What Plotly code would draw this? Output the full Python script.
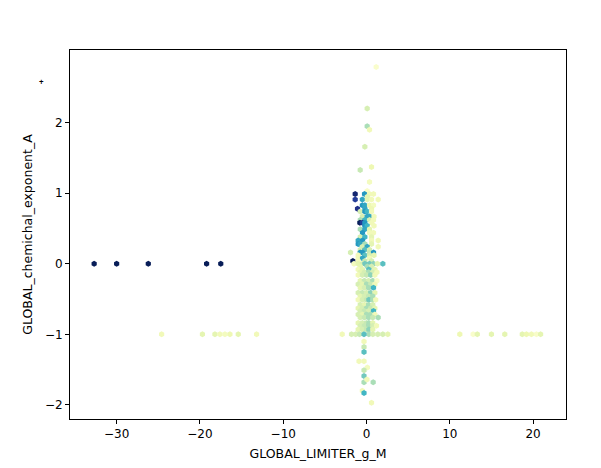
import plotly.graph_objects as go
from plotly.colors import sequential

# hexbin cells: x, y and the mean value that sets colour (0..1)
# outliers far left at y = 0 (all dark)
left_x = [-32.7, -30.0, -26.2, -19.2, -17.5]
left_y = [0.0, 0.0, 0.0, 0.0, 0.0]
left_c = [1.0, 1.0, 1.0, 1.0, 1.0]

# row at y = -1 on the left side
low_left_x = [-24.6, -19.7, -18.2, -17.6, -17.0, -16.4, -15.4, -13.2]
low_left_y = [-1.0, -1.0, -1.0, -1.0, -1.0, -1.0, -1.0, -1.0]
low_left_c = [0.1, 0.15, 0.15, 0.1, 0.08, 0.12, 0.15, 0.1]

# row at y = -1 on the right side
low_right_x = [11.2, 12.8, 13.3, 15.0, 16.6, 18.7, 19.2, 19.8, 20.4, 20.9]
low_right_y = [-1.0, -1.0, -1.0, -1.0, -1.0, -1.0, -1.0, -1.0, -1.0, -1.0]
low_right_c = [0.12, 0.04, 0.15, 0.15, 0.15, 0.15, 0.12, 0.1, 0.05, 0.15]

# central column near x = 0
mid_x = [
    1.16, 0.08, 0.08, 0.36, -0.2, -0.76, 0.6, 0.36, 0.08,
    -1.36, -0.24, 0.36, 0.84, 0.1,
    -1.36, -0.5, 0.1, 0.6, 1.4,
    -0.5, -0.2, 0.36, 0.84,
    -1.08, -0.2, 0.6,
    -0.75, -0.2, 0.08, 0.6,
    -0.5, 0.08, 0.36, 0.9,
    -0.75, -0.2, 0.36, 0.84,
    -0.8, -0.5, -0.2, 0.6,
    -0.2, 0.08, 0.9,
    -0.75, -0.2, 0.36,
    -0.48, 0.36, 0.84,
    -0.75, -0.2, 0.6,
    -1.0, -0.48, 0.6, 1.4,
    -1.0, -0.75, -0.2, 0.6,
    -0.5, 0.08, 1.4,
    -0.75, -0.2, 0.36,
    -1.92, -0.76, -0.48, 0.36, 0.84,
    -1.0, -0.2, 0.36, 0.9,
    -1.0, -0.48, 0.36,
    -1.64, -1.0, -0.2, 0.6,
    -1.5, -1.0, -0.48, -0.2, 0.36, 0.84, 1.3, 1.96,
    -0.75, 0.1, 0.6,
    -1.0, -0.5, 0.28, 1.0,
    -0.75, -0.25, 0.25, 0.75, 1.25,
    -1.0, -0.5, 0.0, 0.5, 1.0,
    -0.75, -0.25, 0.25, 0.75, 1.25,
    -1.0, -0.5, 0.0, 0.5, 1.0,
    -0.75, -0.25, 0.25, 0.84,
    -1.0, -0.5, 0.0, 0.5, 1.0,
    -0.75, -0.25, 0.25, 0.75,
    -1.0, -0.5, 0.0, 0.28, 0.75, 1.1,
    -0.75, -0.25, 0.25, 0.75,
    -1.0, -0.5, 0.0, 0.5, 1.0,
    -0.75, -0.25, 0.25, 0.84,
    -1.0, -0.5, 0.0, 0.5, 1.0,
    -0.75, -0.25, 0.25, 0.75, 1.4,
    -1.0, -0.5, 0.0, 0.28, 0.75,
    -0.75, -0.25, 0.25, 0.75, 1.2,
    -1.0, -0.5, 0.0, 0.28, 0.75,
    -2.92, -1.8, -1.3, -0.84, 0.28, 0.76, 1.36, 1.96, 2.56, -0.3,
    -0.3, -0.3, -0.3, -0.9, -0.3, 0.1, -0.3, -0.3, -0.3, 0.8, 0.05, -0.5, -0.3, 0.6,
]
mid_y = [
    2.79, 2.20, 1.95, 1.90, 1.66, 1.33, 1.37, 1.16, 1.03,
    0.99, 0.99, 0.99, 0.99, 0.95,
    0.91, 0.91, 0.91, 0.91, 0.91,
    0.83, 0.83, 0.83, 0.83,
    0.78, 0.78, 0.78,
    0.74, 0.74, 0.74, 0.74,
    0.67, 0.67, 0.67, 0.67,
    0.62, 0.62, 0.62, 0.62,
    0.58, 0.58, 0.58, 0.58,
    0.54, 0.54, 0.54,
    0.49, 0.49, 0.49,
    0.44, 0.44, 0.44,
    0.38, 0.38, 0.38,
    0.33, 0.33, 0.33, 0.33,
    0.28, 0.28, 0.28, 0.28,
    0.24, 0.24, 0.24,
    0.20, 0.20, 0.20,
    0.16, 0.16, 0.16, 0.16, 0.16,
    0.12, 0.12, 0.12, 0.12,
    0.08, 0.08, 0.08,
    0.04, 0.04, 0.04, 0.04,
    0.0, 0.0, 0.0, 0.0, 0.0, 0.0, 0.0, 0.0,
    -0.04, -0.04, -0.04,
    -0.08, -0.08, -0.08, -0.08,
    -0.12, -0.12, -0.12, -0.12, -0.12,
    -0.16, -0.16, -0.16, -0.16, -0.16,
    -0.24, -0.24, -0.24, -0.24, -0.24,
    -0.29, -0.29, -0.29, -0.29, -0.29,
    -0.34, -0.34, -0.34, -0.34,
    -0.41, -0.41, -0.41, -0.41, -0.41,
    -0.46, -0.46, -0.46, -0.46,
    -0.51, -0.51, -0.51, -0.51, -0.51, -0.51,
    -0.58, -0.58, -0.58, -0.58,
    -0.63, -0.63, -0.63, -0.63, -0.63,
    -0.67, -0.67, -0.67, -0.67,
    -0.72, -0.72, -0.72, -0.72, -0.72,
    -0.76, -0.76, -0.76, -0.76, -0.76,
    -0.84, -0.84, -0.84, -0.84, -0.84,
    -0.88, -0.88, -0.88, -0.88, -0.88,
    -0.93, -0.93, -0.93, -0.93, -0.93,
    -1.0, -1.0, -1.0, -1.0, -1.0, -1.0, -1.0, -1.0, -1.0, -1.0,
    -1.10, -1.18, -1.25, -1.38, -1.38, -1.47, -1.51, -1.59, -1.68, -1.68, -1.64, -1.80, -1.83, -1.97,
]
mid_c = [
    0.04, 0.2, 0.3, 0.1, 0.2, 0.25, 0.12, 0.08, 0.05,
    0.95, 0.6, 0.1, 0.1, 0.15,
    0.85, 0.55, 0.15, 0.1, 0.1,
    0.6, 0.55, 0.12, 0.08,
    0.9, 0.55, 0.12,
    0.2, 0.6, 0.5, 0.1,
    0.2, 0.55, 0.55, 0.1,
    0.3, 0.5, 0.2, 0.1,
    1.0, 0.85, 0.6, 0.1,
    0.6, 0.5, 0.1,
    0.3, 0.55, 0.15,
    0.6, 0.1, 0.1,
    0.2, 0.5, 0.15,
    0.55, 0.6, 0.1, 0.1,
    0.6, 0.55, 0.3, 0.15,
    0.2, 0.55, 0.1,
    0.2, 0.45, 0.2,
    0.2, 0.6, 0.6, 0.25, 0.6,
    0.1, 0.45, 0.2, 0.15,
    0.1, 0.55, 0.1,
    1.0, 0.1, 0.25, 0.2,
    0.08, 0.15, 0.2, 0.4, 0.4, 0.35, 0.15, 0.45,
    0.15, 0.3, 0.2,
    0.1, 0.15, 0.45, 0.15,
    0.15, 0.2, 0.3, 0.2, 0.1,
    0.1, 0.2, 0.25, 0.35, 0.1,
    0.15, 0.25, 0.2, 0.3, 0.05,
    0.2, 0.15, 0.3, 0.25, 0.1,
    0.15, 0.2, 0.3, 0.5,
    0.2, 0.25, 0.2, 0.35, 0.15,
    0.15, 0.2, 0.25, 0.3,
    0.1, 0.2, 0.25, 0.4, 0.3, 0.1,
    0.2, 0.15, 0.3, 0.2,
    0.15, 0.2, 0.3, 0.25, 0.15,
    0.2, 0.25, 0.2, 0.5,
    0.2, 0.15, 0.3, 0.3, 0.1,
    0.2, 0.25, 0.3, 0.25, 0.3,
    0.15, 0.2, 0.25, 0.3, 0.15,
    0.2, 0.25, 0.3, 0.2, 0.1,
    0.15, 0.2, 0.25, 0.35, 0.15,
    0.1, 0.2, 0.2, 0.25, 0.3, 0.2, 0.2, 0.2, 0.15, 0.45,
    0.1, 0.25, 0.45, 0.1, 0.1, 0.08, 0.25, 0.4, 0.3, 0.3, 0.1, 0.1, 0.5, 0.1,
]

x_ticks = [-30, -20, -10, 0, 10, 20]
y_ticks = [-2, -1, 0, 1, 2]

all_x = left_x + low_left_x + low_right_x + mid_x
all_y = left_y + low_left_y + low_right_y + mid_y
all_c = left_c + low_left_c + low_right_c + mid_c

fig = go.Figure()
fig.add_trace(go.Scatter(
    x=all_x, y=all_y, mode="markers",
    marker=dict(symbol="hexagon", size=6, color=all_c, cmin=0, cmax=1,
                colorscale=sequential.YlGnBu, line=dict(width=0)),
    showlegend=False, hoverinfo="skip",
))

def lab(v):
    return str(v).replace("-", "\u2212")

axis_common = dict(
    showgrid=False, zeroline=False, showline=True, linecolor="black", linewidth=1,
    mirror=True, ticks="outside", ticklen=4, tickcolor="black",
    tickfont=dict(family="DejaVu Sans", size=12, color="black"),
)
fig.update_xaxes(range=[-35.6, 23.95], tickvals=x_ticks, ticktext=[lab(v) for v in x_ticks],
                 title=dict(text="GLOBAL_LIMITER_g_M", font=dict(family="DejaVu Sans", size=12.5, color="black"), standoff=8),
                 **axis_common)
fig.update_yaxes(range=[-2.2, 3.03], tickvals=y_ticks, ticktext=[lab(v) for v in y_ticks],
                 title=dict(text="GLOBAL_chemichal_exponent_A", font=dict(family="DejaVu Sans", size=12.5, color="black"), standoff=9),
                 **axis_common)

# tiny stray mark top-left outside the axes
fig.add_annotation(x=-0.0665, y=0.935, xref="paper", yref="paper", text="<b>+</b>", showarrow=False,
                   font=dict(size=8, color="black"))

fig.update_layout(
    width=601, height=468, plot_bgcolor="white", paper_bgcolor="white",
    margin=dict(l=62, r=43, t=42, b=57),
)
fig.write_html("out.html")
